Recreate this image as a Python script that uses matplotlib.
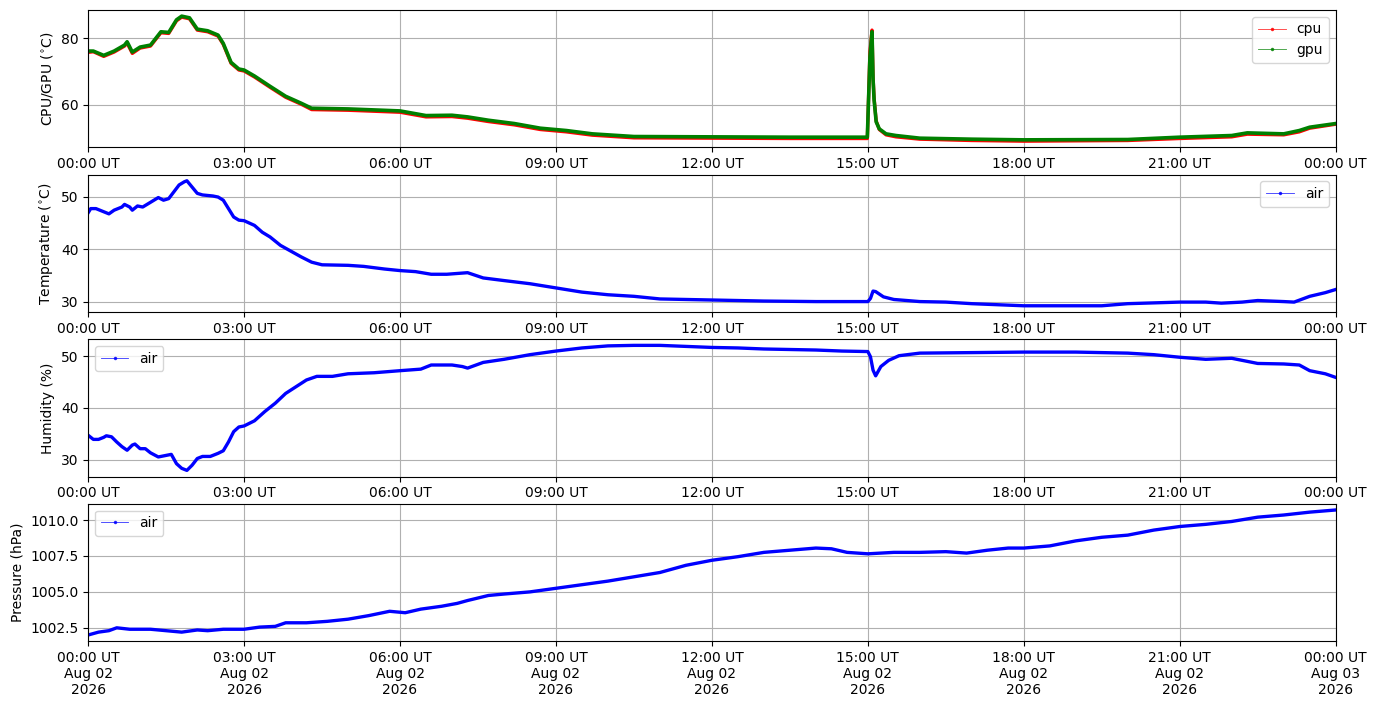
import numpy as np
import pandas as pd
import matplotlib
matplotlib.use("Agg")
import matplotlib.pyplot as plt
import matplotlib.dates as mdates
from matplotlib.lines import Line2D

# =====================================================
# Data (hours after 00:00 UT)
# =====================================================

day_start = "2026-08-02 00:00"
day_end = "2026-08-03 00:00"

chip_hours = [0, 0.1, 0.3, 0.5, 0.7, 0.75, 0.85, 1.0, 1.2, 1.3,
              1.4, 1.55, 1.7, 1.8, 1.95, 2.1, 2.3, 2.5, 2.6, 2.75,
              2.9, 3.0, 3.2, 3.5, 3.8, 4.1, 4.3, 5.0, 6.0, 6.5,
              7.0, 7.3, 7.7, 8.2, 8.7, 9.2, 9.7, 10.2, 10.5, 12.0,
              13.5, 14.99, 15.04, 15.08, 15.10, 15.12, 15.16, 15.22, 15.35, 15.54,
              16.0, 17.0, 18.0, 20.0, 21.0, 22.0, 22.3, 23.0, 23.3, 23.5,
              24.0]

gpu_temp = [76.2, 76.2, 74.9, 76.2, 78.0, 79.0, 75.9, 77.4, 78.0, 80.0,
            82.0, 81.8, 85.6, 86.7, 86.2, 82.8, 82.3, 81.0, 78.5, 72.8,
            70.8, 70.5, 68.7, 65.6, 62.6, 60.5, 59.0, 58.8, 58.2, 56.8,
            56.9, 56.4, 55.4, 54.4, 53.0, 52.3, 51.3, 50.8, 50.5, 50.4,
            50.3, 50.3, 74.4, 82.0, 67.7, 61.5, 54.9, 52.8, 51.3, 50.8,
            50.0, 49.7, 49.5, 49.6, 50.3, 50.8, 51.6, 51.3, 52.3, 53.3,
            54.4]

cpu_temp = [75.8, 76.0, 74.6, 75.9, 77.7, 78.6, 75.5, 77.1, 77.7, 79.7,
            81.7, 81.5, 85.3, 86.4, 85.9, 82.5, 82.0, 80.7, 78.2, 72.5,
            70.5, 70.2, 68.4, 65.3, 62.3, 60.2, 58.6, 58.4, 57.8, 56.4,
            56.5, 56.0, 55.0, 54.0, 52.6, 51.9, 50.9, 50.4, 50.1, 50.0,
            49.9, 49.9, 76.0, 82.5, 68.5, 62.0, 55.2, 52.6, 51.0, 50.4,
            49.7, 49.3, 49.1, 49.3, 49.9, 50.4, 51.2, 51.0, 51.9, 53.0,
            54.2]

temp_hours = [0, 0.05, 0.15, 0.3, 0.4, 0.5, 0.65, 0.7, 0.8, 0.85,
              0.95, 1.05, 1.2, 1.35, 1.45, 1.55, 1.65, 1.75, 1.85, 1.9,
              2.0, 2.1, 2.2, 2.4, 2.5, 2.6, 2.7, 2.8, 2.9, 3.0,
              3.2, 3.35, 3.5, 3.7, 3.9, 4.1, 4.3, 4.5, 5.0, 5.3,
              5.7, 6.0, 6.3, 6.6, 6.9, 7.3, 7.6, 8.0, 8.5, 9.0,
              9.5, 10.0, 10.5, 11.0, 12.0, 13.0, 14.0, 15.0, 15.05, 15.1,
              15.15, 15.3, 15.5, 16.0, 16.5, 17.0, 17.5, 18.0, 19.5, 20.0,
              21.0, 21.5, 21.8, 22.2, 22.5, 23.0, 23.2, 23.5, 23.8, 24.0]

air_temp = [46.9, 47.7, 47.7, 47.1, 46.7, 47.4, 48.0, 48.5, 48.0, 47.4,
            48.2, 48.0, 48.9, 49.8, 49.3, 49.6, 50.9, 52.2, 52.8, 53.0,
            51.8, 50.6, 50.3, 50.1, 49.9, 49.3, 47.7, 46.1, 45.5, 45.4,
            44.5, 43.2, 42.3, 40.7, 39.6, 38.5, 37.5, 37.0, 36.9, 36.7,
            36.2, 35.9, 35.7, 35.2, 35.2, 35.5, 34.5, 34.0, 33.4, 32.6,
            31.8, 31.3, 31.0, 30.5, 30.3, 30.1, 30.0, 30.0, 30.6, 32.0,
            31.9, 30.9, 30.4, 30.0, 29.9, 29.6, 29.4, 29.2, 29.2, 29.6,
            29.9, 29.9, 29.7, 29.9, 30.2, 30.0, 29.9, 31.0, 31.7, 32.3]

hum_hours = [0, 0.1, 0.2, 0.3, 0.35, 0.45, 0.55, 0.65, 0.75, 0.85,
             0.9, 1.0, 1.1, 1.2, 1.35, 1.5, 1.6, 1.7, 1.8, 1.9,
             2.0, 2.1, 2.2, 2.35, 2.5, 2.6, 2.7, 2.8, 2.9, 3.0,
             3.2, 3.4, 3.6, 3.8, 4.0, 4.2, 4.4, 4.7, 5.0, 5.5,
             6.0, 6.4, 6.6, 7.0, 7.2, 7.3, 7.6, 8.0, 8.5, 9.0,
             9.5, 10.0, 10.5, 11.0, 11.5, 12.0, 12.5, 13.0, 14.0, 14.5,
             15.0, 15.05, 15.1, 15.15, 15.25, 15.4, 15.6, 16.0, 17.0, 18.0,
             19.0, 20.0, 20.5, 21.0, 21.5, 22.0, 22.5, 23.0, 23.3, 23.5,
             23.8, 24.0]

air_hum = [34.7, 33.9, 33.9, 34.3, 34.6, 34.4, 33.4, 32.5, 31.8, 32.8,
           33.0, 32.1, 32.1, 31.3, 30.5, 30.8, 31.0, 29.2, 28.3, 27.9,
           28.9, 30.2, 30.6, 30.6, 31.2, 31.7, 33.4, 35.4, 36.3, 36.5,
           37.5, 39.3, 40.9, 42.8, 44.1, 45.4, 46.1, 46.1, 46.6, 46.8,
           47.2, 47.5, 48.3, 48.3, 48.0, 47.7, 48.8, 49.4, 50.3, 51.0,
           51.6, 52.0, 52.1, 52.1, 51.9, 51.7, 51.6, 51.4, 51.2, 51.0,
           50.9, 49.9, 47.3, 46.2, 48.0, 49.2, 50.1, 50.6, 50.7, 50.8,
           50.8, 50.6, 50.3, 49.8, 49.4, 49.6, 48.6, 48.5, 48.3, 47.2,
           46.6, 45.9]

pres_hours = [0, 0.2, 0.4, 0.55, 0.8, 1.2, 1.5, 1.8, 2.1, 2.3,
              2.6, 3.0, 3.3, 3.6, 3.8, 4.2, 4.6, 5.0, 5.4, 5.8,
              6.1, 6.4, 6.8, 7.1, 7.3, 7.7, 8.0, 8.5, 9.0, 9.5,
              10.0, 10.5, 11.0, 11.5, 12.0, 12.5, 13.0, 13.5, 14.0, 14.3,
              14.6, 15.0, 15.5, 16.0, 16.5, 16.9, 17.3, 17.7, 18.0, 18.5,
              19.0, 19.5, 20.0, 20.5, 21.0, 21.5, 22.0, 22.5, 23.0, 23.5,
              24.0]

air_pres = [1002.0, 1002.2, 1002.3, 1002.5, 1002.4, 1002.4, 1002.3, 1002.2, 1002.35, 1002.3,
            1002.4, 1002.4, 1002.55, 1002.6, 1002.85, 1002.85, 1002.95, 1003.1, 1003.35, 1003.65,
            1003.55, 1003.8, 1004.0, 1004.2, 1004.4, 1004.75, 1004.85, 1005.0, 1005.25, 1005.5,
            1005.75, 1006.05, 1006.35, 1006.85, 1007.2, 1007.45, 1007.75, 1007.9, 1008.05, 1008.0,
            1007.75, 1007.65, 1007.75, 1007.75, 1007.8, 1007.7, 1007.9, 1008.05, 1008.05, 1008.2,
            1008.55, 1008.8, 1008.95, 1009.3, 1009.55, 1009.7, 1009.9, 1010.2, 1010.35, 1010.55,
            1010.7]


def to_times(hours):
    return pd.Timestamp(day_start) + pd.to_timedelta(hours, unit="h")


# =====================================================
# Figure
# =====================================================

fig, axes = plt.subplots(4, 1, figsize=(13.77, 7.07), dpi=100)
fig.subplots_adjust(left=0.064, right=0.970, top=0.986, bottom=0.093, hspace=0.197)

band = 2.4


def proxy(color):
    return Line2D([], [], color=color, lw=0.6, marker=".", ms=3, alpha=0.8)


ax = axes[0]
ax.plot(to_times(chip_hours), cpu_temp, color="r", lw=band)
ax.plot(to_times(chip_hours), gpu_temp, color="g", lw=band + 0.2)
ax.set_ylabel(r"CPU/GPU ($^{\circ}$C)")
ax.legend([proxy("r"), proxy("g")], ["cpu", "gpu"], loc="upper right")

ax = axes[1]
ax.plot(to_times(temp_hours), air_temp, color="b", lw=band)
ax.set_ylabel(r"Temperature ($^{\circ}$C)")
ax.legend([proxy("b")], ["air"], loc="upper right")

ax = axes[2]
ax.plot(to_times(hum_hours), air_hum, color="b", lw=band)
ax.set_ylabel("Humidity (%)")
ax.legend([proxy("b")], ["air"], loc="upper left")

ax = axes[3]
ax.plot(to_times(pres_hours), air_pres, color="b", lw=band)
ax.set_ylabel("Pressure (hPa)")
ax.legend([proxy("b")], ["air"], loc="upper left")

for i, ax in enumerate(axes):
    ax.set_xlim(pd.Timestamp(day_start), pd.Timestamp(day_end))
    ax.xaxis.set_major_locator(mdates.HourLocator(byhour=range(0, 24, 3)))
    if i == len(axes) - 1:
        ax.xaxis.set_major_formatter(mdates.DateFormatter("%H:%M UT\n%b %d\n%Y"))
    else:
        ax.xaxis.set_major_formatter(mdates.DateFormatter("%H:%M UT"))
    ax.grid(True)

fig.savefig("out.png", dpi=100)
